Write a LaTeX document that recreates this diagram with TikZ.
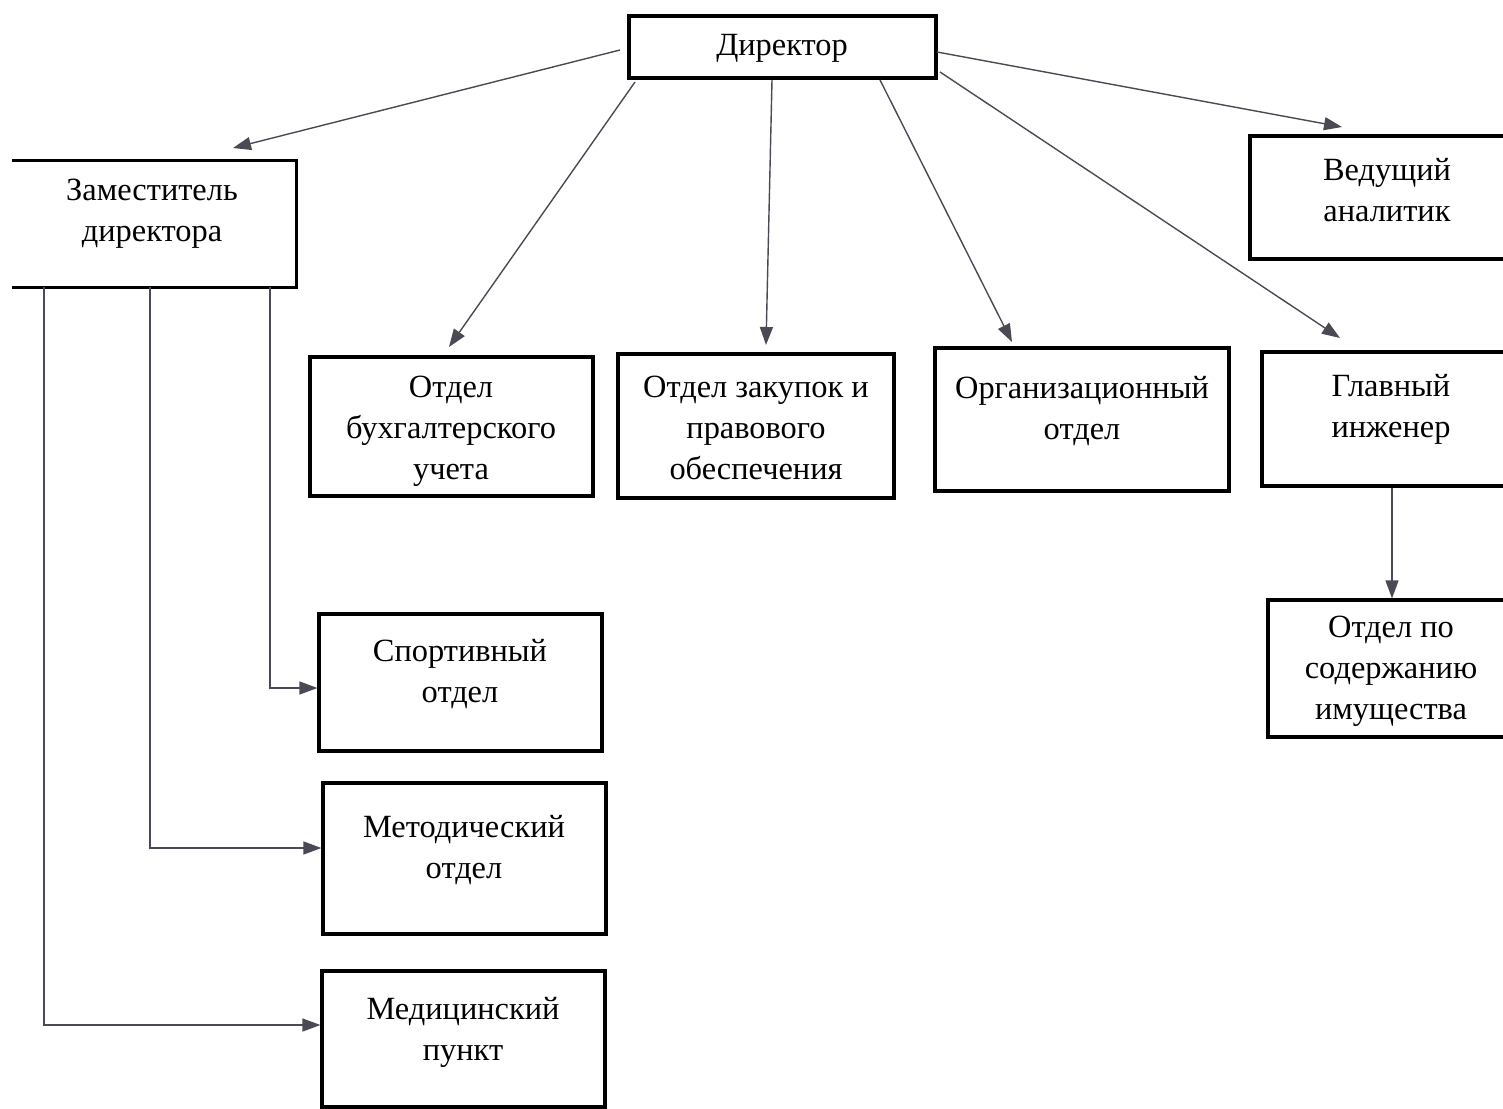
\documentclass[tikz,border=0pt]{standalone}
\usepackage{fontspec}
\setmainfont{Liberation Serif}
\usetikzlibrary{arrows.meta,fit}
\definecolor{linec}{HTML}{4a4a55}
\begin{document}
\begin{tikzpicture}[x=0.5pt,y=-0.5pt,
  boxline/.style={draw=black, line width=1.6pt},
  box/.style={boxline, inner sep=0pt},
  lbl/.style={align=center, inner sep=0pt, font=\fontsize{16.2}{20.5}\selectfont},
  conn/.style={draw=linec, line width=0.7pt},
  arr/.style={conn, -{Triangle[length=9pt,width=6.5pt]}}]
\clip (0,0) rectangle (1503,1108);
\fill[white] (0,0) rectangle (1503,1108);
% boxes
\node[box, fit={(629,16) (936,78)}] (dir) {};
\node[inner sep=0pt, fit={(12,161) (296,287)}] (zam) {};
\draw[boxline] (zam.north west) -- (zam.north east) -- (zam.south east) -- (zam.south west);
\node[box, fit={(1250,136) (1530,259)}] (ved) {};
\node[box, fit={(310,357) (593,496)}] (buh) {};
\node[box, fit={(618,354) (894,498)}] (zak) {};
\node[box, fit={(935,348) (1229,491)}] (org) {};
\node[box, fit={(1262,352) (1530,486)}] (glav) {};
\node[box, fit={(1268,600) (1530,737)}] (imu) {};
\node[box, fit={(319,614) (602,751)}] (sport) {};
\node[box, fit={(323,783) (606,934)}] (met) {};
\node[box, fit={(322,971) (605,1107)}] (med) {};
% texts
\node[lbl] (dirT) at (782,48) {Директор};
\node[lbl] (zamT) at (152,214) {Заместитель\\директора};
\node[lbl] (vedT) at (1387,190) {Ведущий\\аналитик};
\node[lbl] (buhT) at (451,431) {Отдел\\бухгалтерского\\учета};
\node[lbl] (zakT) at (756,428) {Отдел закупок и\\правового\\обеспечения};
\node[lbl] (orgT) at (1082,411) {Организационный\\отдел};
\node[lbl] (glavT) at (1391,409) {Главный\\инженер};
\node[lbl] (imuT) at (1391,671) {Отдел по\\содержанию\\имущества};
\node[lbl] (sportT) at (460,674) {Спортивный\\отдел};
\node[lbl] (metT) at (464,850) {Методический\\отдел};
\node[lbl] (medT) at (463,1032) {Медицинский\\пункт};
% connector end points
\coordinate (d1) at (620,50);
\coordinate (d2) at (635,82);
\coordinate (d3) at (772,80);
\coordinate (d4) at (880,80);
\coordinate (d5) at (940,72);
\coordinate (d6) at (937,52);
\coordinate (zamIn) at (233,148);
\coordinate (buhIn) at (449,347);
\coordinate (zakIn) at (766,345);
\coordinate (orgIn) at (1012,342);
\coordinate (glavIn) at (1340,338);
\coordinate (vedIn) at (1342,127);
\coordinate (g1) at (1392,488);
\coordinate (z1) at (270,287);
\coordinate (z2) at (150,287);
\coordinate (z3) at (44,287);
% connectors
\draw[arr] (d1) -- (zamIn);
\draw[arr] (d2) -- (buhIn);
\draw[arr] (d3) -- (zakIn);
\draw[arr] (d4) -- (orgIn);
\draw[arr] (d5) -- (glavIn);
\draw[arr] (d6) -- (vedIn);
\draw[arr] (g1) -- (g1 |- imu.north);
\draw[arr] (z1) |- (sport.west |- 0,688);
\draw[arr] (z2) |- (met.west |- 0,848);
\draw[arr] (z3) |- (med.west |- 0,1025);
\end{tikzpicture}
\end{document}
